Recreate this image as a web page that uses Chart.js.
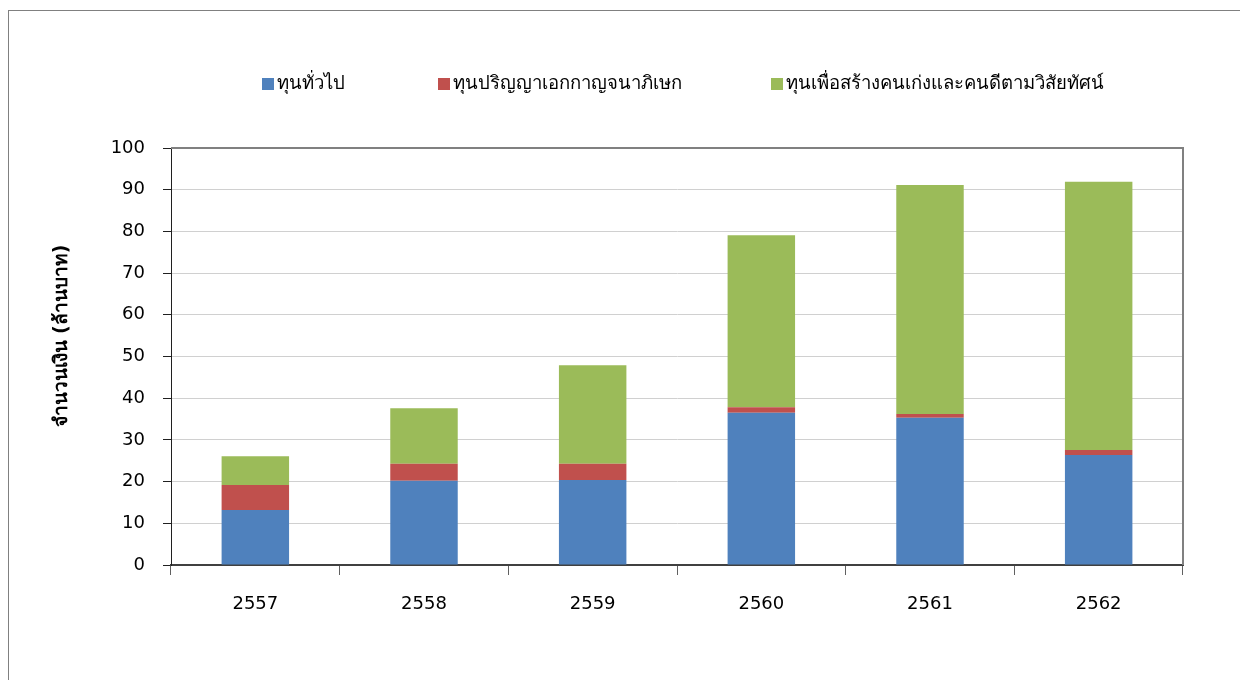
<!DOCTYPE html>
<html>
<head>
<meta charset="utf-8">
<script src="https://cdn.jsdelivr.net/npm/chart.js@4/dist/chart.umd.min.js"></script>
<style>
  body { margin: 0; background: #fff; }
  #wrap { position: relative; width: 1240px; height: 680px; overflow: hidden; }
  #frame { position: absolute; left: 8px; top: 10px; width: 1300px; height: 800px; border: 1px solid #808080; box-sizing: border-box; }
  #chart { position: absolute; left: 0; top: 0; }
</style>
</head>
<body>
<div id="wrap">
  <div id="frame"></div>
  <canvas id="chart" width="1240" height="680"></canvas>
</div>
<script>
// ปีงบประมาณ
var years = ["2557", "2558", "2559", "2560", "2561", "2562"];
// ล้านบาท
var general = [13.2, 20.2, 20.4, 36.5, 35.3, 26.4];
var phd = [6.0, 4.1, 3.9, 1.3, 0.9, 1.2];
var goodPeople = [6.9, 13.3, 23.6, 41.3, 54.9, 64.3];
var seriesNames = ["ทุนทั่วไป", "ทุนปริญญาเอกกาญจนาภิเษก", "ทุนเพื่อสร้างคนเก่งและคนดีตามวิสัยทัศน์"];
var yTicks = [0, 10, 20, 30, 40, 50, 60, 70, 80, 90, 100];
var yTitle = 'จำนวนเงิน (ล้านบาท)';

var FONT = "Tahoma, 'DejaVu Sans', 'Noto Sans', sans-serif";
var legendX = [262, 438, 771];

// legend drawn at fixed spots like the original
var myLegend = {
  id: 'myLegend',
  afterDraw: function(chart) {
    var ctx = chart.ctx;
    ctx.save();
    ctx.font = "18.5px " + FONT;
    ctx.textBaseline = 'middle';
    ctx.textAlign = 'left';
    chart.data.datasets.forEach(function(ds, i) {
      var x = legendX[i];
      ctx.fillStyle = ds.backgroundColor;
      ctx.fillRect(x, 78, 12, 12);
      ctx.fillStyle = '#000';
      ctx.fillText(ds.label, x + 15, 84);
    });
    ctx.restore();
  }
};

// y title sits a bit above the middle in the original
var yTitlePlugin = {
  id: 'yTitlePlugin',
  afterDraw: function(chart) {
    var ctx = chart.ctx;
    ctx.save();
    ctx.translate(62, 336);
    ctx.rotate(-Math.PI / 2);
    ctx.font = "bold 19px " + FONT;
    ctx.fillStyle = '#000';
    ctx.textAlign = 'center';
    ctx.textBaseline = 'middle';
    ctx.fillText(yTitle, 0, 0);
    ctx.restore();
  }
};

var plotBorder = {
  id: 'plotBorder',
  afterDraw: function(chart) {
    var a = chart.chartArea, ctx = chart.ctx;
    ctx.save();
    ctx.strokeStyle = '#808080';
    ctx.lineWidth = 2;
    ctx.beginPath();
    ctx.moveTo(a.left, a.top);
    ctx.lineTo(a.right, a.top);
    ctx.lineTo(a.right, a.bottom);
    ctx.stroke();
    ctx.restore();
  }
};

new Chart(document.getElementById("chart"), {
  type: 'bar',
  data: {
    labels: years,
    datasets: [
      { label: seriesNames[0], backgroundColor: "#4F81BD", data: general },
      { label: seriesNames[1], backgroundColor: "#C0504D", data: phd },
      { label: seriesNames[2], backgroundColor: "#9BBB59", data: goodPeople }
    ]
  },
  options: {
    responsive: false,
    animation: false,
    layout: { padding: { top: 148, right: 57, bottom: 0, left: 0 } },
    datasets: { bar: { barPercentage: 0.4, categoryPercentage: 1, borderWidth: 0 } },
    plugins: { legend: { display: false }, tooltip: { enabled: false } },
    scales: {
      x: {
        stacked: true,
        afterFit: function(s) { s.height = 115; },
        grid: { drawOnChartArea: false, tickLength: 10, tickColor: '#606060' },
        border: { color: '#404040', width: 2 },
        ticks: { color: '#000', padding: 19, font: { family: FONT, size: 18 } }
      },
      y: {
        stacked: true,
        min: 0, max: 100,
        afterFit: function(s) { s.width = 171; },
        afterBuildTicks: function(s) { s.ticks = yTicks.map(function(v) { return { value: v }; }); },
        grid: { color: '#d0d0d0', tickLength: 8, tickColor: '#202020' },
        border: { color: '#202020', width: 1 },
        ticks: { color: '#000', padding: 18, font: { family: FONT, size: 18 } }
      }
    }
  },
  plugins: [myLegend, yTitlePlugin, plotBorder]
});
</script>
</body>
</html>
